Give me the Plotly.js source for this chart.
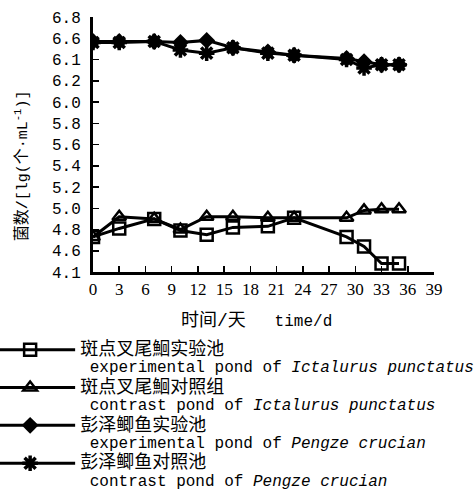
<!DOCTYPE html>
<html>
<head>
<meta charset="utf-8">
<script src="https://cdn.plot.ly/plotly-3.0.1.min.js"></script>
<style>
html,body{margin:0;padding:0;background:#fff;}
#chart{width:474px;height:495px;}
</style>
</head>
<body>
<div id="chart"></div>
<script>
// Days of sampling
const days = [0, 3, 7, 10, 13, 16, 20, 23, 29, 31, 33, 35];
// lg(cells/mL)
const ictalurusExp = [4.73, 4.81, 4.90, 4.79, 4.75, 4.82, 4.83, 4.91, 4.73, 4.64, 4.48, 4.48];
const ictalurusCtl = [4.73, 4.92, 4.90, 4.80, 4.92, 4.92, 4.91, 4.91, 4.91, 4.98, 4.99, 4.99];
const pengzeExp    = [6.57, 6.57, 6.57, 6.56, 6.58, 6.51, 6.47, 6.44, 6.41, 6.38, 6.35, 6.35];
const pengzeCtl    = [6.56, 6.56, 6.57, 6.49, 6.46, 6.51, 6.46, 6.44, 6.40, 6.32, 6.35, 6.35];

const seriesNames = [
  '<span style="font-size:18px">斑点叉尾鮰实验池</span><br><span style="font-size:16px"> experimental pond of <i>Ictalurus punctatus</i></span>',
  '<span style="font-size:18px">斑点叉尾鮰对照组</span><br><span style="font-size:16px"> contrast pond of <i>Ictalurus punctatus</i></span>',
  '<span style="font-size:18px">彭泽鲫鱼实验池</span><br><span style="font-size:16px"> experimental pond of <i>Pengze crucian</i></span>',
  '<span style="font-size:18px">彭泽鲫鱼对照池</span><br><span style="font-size:16px"> contrast pond of <i>Pengze crucian</i></span>'
];

const yTickVals = [4.4, 4.6, 4.8, 5.0, 5.2, 5.4, 5.6, 5.8, 6.0, 6.2, 6.4, 6.6, 6.8];
const yTickText = ['4.1', '4.6', '4.8', '5.0', '5.2', '5.4', '5.6', '5.8', '6.0', '6.2', '6.1', '6.6', '6.8'];
const xTickVals = [0, 3, 6, 9, 12, 15, 18, 21, 24, 27, 30, 33, 36, 39];

const lineStyle = {color: '#000', width: 3};
const traces = [
  {x: days, y: ictalurusCtl, name: seriesNames[1], mode: 'lines+markers', line: lineStyle, legendrank: 2,
   marker: {symbol: 'triangle-up-open', size: 12, color: '#000', line: {width: 2.5, color: '#000'}}},
  {x: days, y: ictalurusExp, name: seriesNames[0], mode: 'lines+markers', line: lineStyle, legendrank: 1,
   marker: {symbol: 'square-open', size: 12, color: '#000', line: {width: 2.5, color: '#000'}}},
  {x: days, y: pengzeCtl, name: seriesNames[3], mode: 'lines+markers', line: lineStyle, legendrank: 4,
   marker: {symbol: 'asterisk-open', size: 13, color: '#000', line: {width: 3.5, color: '#000'}}},
  {x: days, y: pengzeExp, name: seriesNames[2], mode: 'lines+markers', line: lineStyle, legendrank: 3,
   marker: {symbol: 'diamond', size: 13, color: '#000', line: {width: 0}}}
];

const serif = "'Liberation Serif', 'Noto Sans CJK SC', serif";
const mono = "'Liberation Mono', 'Noto Sans CJK SC', monospace";

const layout = {
  width: 474, height: 495,
  margin: {l: 93, r: 40, t: 17, b: 223, autoexpand: false},
  paper_bgcolor: '#fff', plot_bgcolor: '#fff',
  font: {family: serif, color: '#000', size: 16},
  showlegend: true,
  legend: {
    x: -0.331, xanchor: 'left', y: -0.245, yanchor: 'top',
    valign: 'top', itemwidth: 90, tracegroupgap: 0,
    font: {family: mono, size: 13.4, color: '#000'},
    bgcolor: 'rgba(0,0,0,0)'
  },
  xaxis: {
    range: [0, 39], tickmode: 'array', tickvals: xTickVals,
    ticks: 'inside', ticklen: 6, tickwidth: 1.5, tickcolor: '#000',
    showline: true, linewidth: 3, linecolor: '#000', showgrid: false, zeroline: false,
    tickfont: {family: serif, size: 17}, fixedrange: true
  },
  yaxis: {
    range: [4.4, 6.8], tickmode: 'array', tickvals: yTickVals, ticktext: yTickText,
    ticks: 'inside', ticklen: 6, tickwidth: 1.5, tickcolor: '#000',
    showline: true, linewidth: 3, linecolor: '#000', showgrid: false, zeroline: false,
    tickfont: {family: mono, size: 16}, ticklabelstandoff: 6, fixedrange: true
  },
  annotations: [
    {xref: 'paper', yref: 'paper', x: -0.208, y: 0.415, xanchor: 'center', yanchor: 'middle',
     text: '<span style="font-size:16px">菌数</span>/[lg(<span style="font-size:16px">个</span>·mL<sup>-1</sup>)]', textangle: -90, showarrow: false,
     font: {family: mono, size: 15}},
    {xref: 'paper', yref: 'paper', x: 0.48, y: -0.19, xanchor: 'center', yanchor: 'middle',
     text: '<span style="font-size:18px">时间/天</span>   time/d', showarrow: false,
     font: {family: mono, size: 16}}
  ]
};

Plotly.newPlot('chart', traces, layout, {staticPlot: true, displayModeBar: false});
</script>
</body>
</html>
